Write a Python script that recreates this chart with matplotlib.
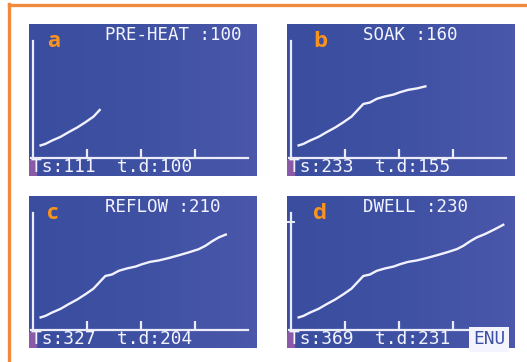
import numpy as np
import matplotlib.pyplot as plt
from matplotlib.patches import Rectangle
from matplotlib.colors import LinearSegmentedColormap

# reflow profile: time (s) and temperature (degC)
time_s = [12, 23, 35, 51, 66, 82, 97, 112, 125, 134, 146, 159, 174, 190, 202,
          217, 233, 251, 270, 288, 307, 319, 332, 344, 359, 375, 395]
temp_c = [26, 30, 37, 45, 55, 65, 76, 88, 104, 115, 118, 126, 131, 135, 140,
          145, 148, 153, 159, 165, 172, 179, 189, 197, 204, 213, 225]

labels = ['a', 'b', 'c', 'd']
stages = ['PRE-HEAT', 'SOAK', 'REFLOW', 'DWELL']
setpoints = [100, 160, 210, 230]
ts_read = [111, 233, 327, 369]
td_read = [100, 155, 204, 231]
n_shown = [9, 18, 25, 27]      # points of the profile drawn on each screen
x_ticks = [100, 200, 300]

# layout of the photo (pixels)
W, H = 527, 362
pw, ph = 228, 152
lefts = [29, 287, 29, 287]
tops = [24, 24, 196, 196]
lab_dx = [18, 26, 18, 26]
px_s, px_c = 0.54, 0.47        # pixels per second / per degree
ox, oy = 4, 18                 # origin offset from panel left / bottom

blue = LinearSegmentedColormap.from_list('lcd', ['#3a4d9f', '#3f51a3', '#4a57aa'])
grad = np.linspace(0, 1, 64).reshape(1, -1)

fig = plt.figure(figsize=(W/100, H/100), dpi=100)
fig.patch.set_facecolor('white')

# orange frame (top and left)
fig.add_artist(plt.Line2D([8.5/W, 1], [1 - 5/H, 1 - 5/H], color='#f08a3c', lw=2.4))
fig.add_artist(plt.Line2D([8.5/W, 8.5/W], [0, 1 - 4/H], color='#f08a3c', lw=2.4))

for i in range(4):
    ax = fig.add_axes([lefts[i]/W, 1 - (tops[i] + ph)/H, pw/W, ph/H])
    ax.imshow(grad, cmap=blue, extent=[0, 1, 0, 1], transform=ax.transAxes,
              aspect='auto', zorder=0)
    ax.set_xlim(-ox/px_s, (pw - ox)/px_s)
    ax.set_ylim(-oy/px_c, (ph - oy)/px_c)

    n = n_shown[i]
    ax.plot(time_s[:n], temp_c[:n], color='#f2f2ff', lw=1.7, zorder=3,
            solid_capstyle='butt')

    for s in ['top', 'right']:
        ax.spines[s].set_visible(False)
    ax.spines['left'].set_position(('data', 0))
    ax.spines['left'].set_bounds(0, 250)
    ax.spines['bottom'].set_position(('data', 0))
    ax.spines['bottom'].set_bounds(-3, 398)
    for s in ['left', 'bottom']:
        ax.spines[s].set_color('#ececf8')
        ax.spines[s].set_linewidth(1.6)

    ax.set_xticks(x_ticks)
    ax.tick_params(axis='x', direction='in', length=6.5, width=1.6,
                   color='#ececf8', labelbottom=False)
    if i == 3:
        ax.set_yticks([setpoints[i]])
        ax.tick_params(axis='y', direction='inout', length=6, width=1.4,
                       color='#ececf8', labelleft=False)
    else:
        ax.set_yticks([])

    ax.text(76/pw, 1 - 11/ph, f'{stages[i]} :{setpoints[i]}', transform=ax.transAxes,
            family='DejaVu Sans Mono', fontsize=12.6, color='#f4f4ff',
            ha='left', va='center')
    ax.text(2/pw, 8.5/ph, f'Ts:{ts_read[i]}  t.d:{td_read[i]}', transform=ax.transAxes,
            family='DejaVu Sans Mono', fontsize=12.9, color='#f4f4ff',
            ha='left', va='center', zorder=4)
    ax.add_patch(Rectangle((0, 0), 7/pw, 16/ph, transform=ax.transAxes,
                           color='#8a5aa8', zorder=2))
    if i == 3:
        ax.text(186/pw, 8.5/ph, 'ENU', transform=ax.transAxes,
                family='DejaVu Sans Mono', fontsize=12.9, color='#3f51a3',
                ha='left', va='center', zorder=4,
                bbox=dict(boxstyle='square,pad=0.2', fc='#f4f4ff', ec='none'))

    ax.text(lab_dx[i]/pw, 1 - 23/ph, labels[i], transform=ax.transAxes,
            family='Open Sans', fontweight='bold', fontsize=16, color='#f7931e',
            ha='left', va='baseline')

fig.savefig('out.png', dpi=100)
